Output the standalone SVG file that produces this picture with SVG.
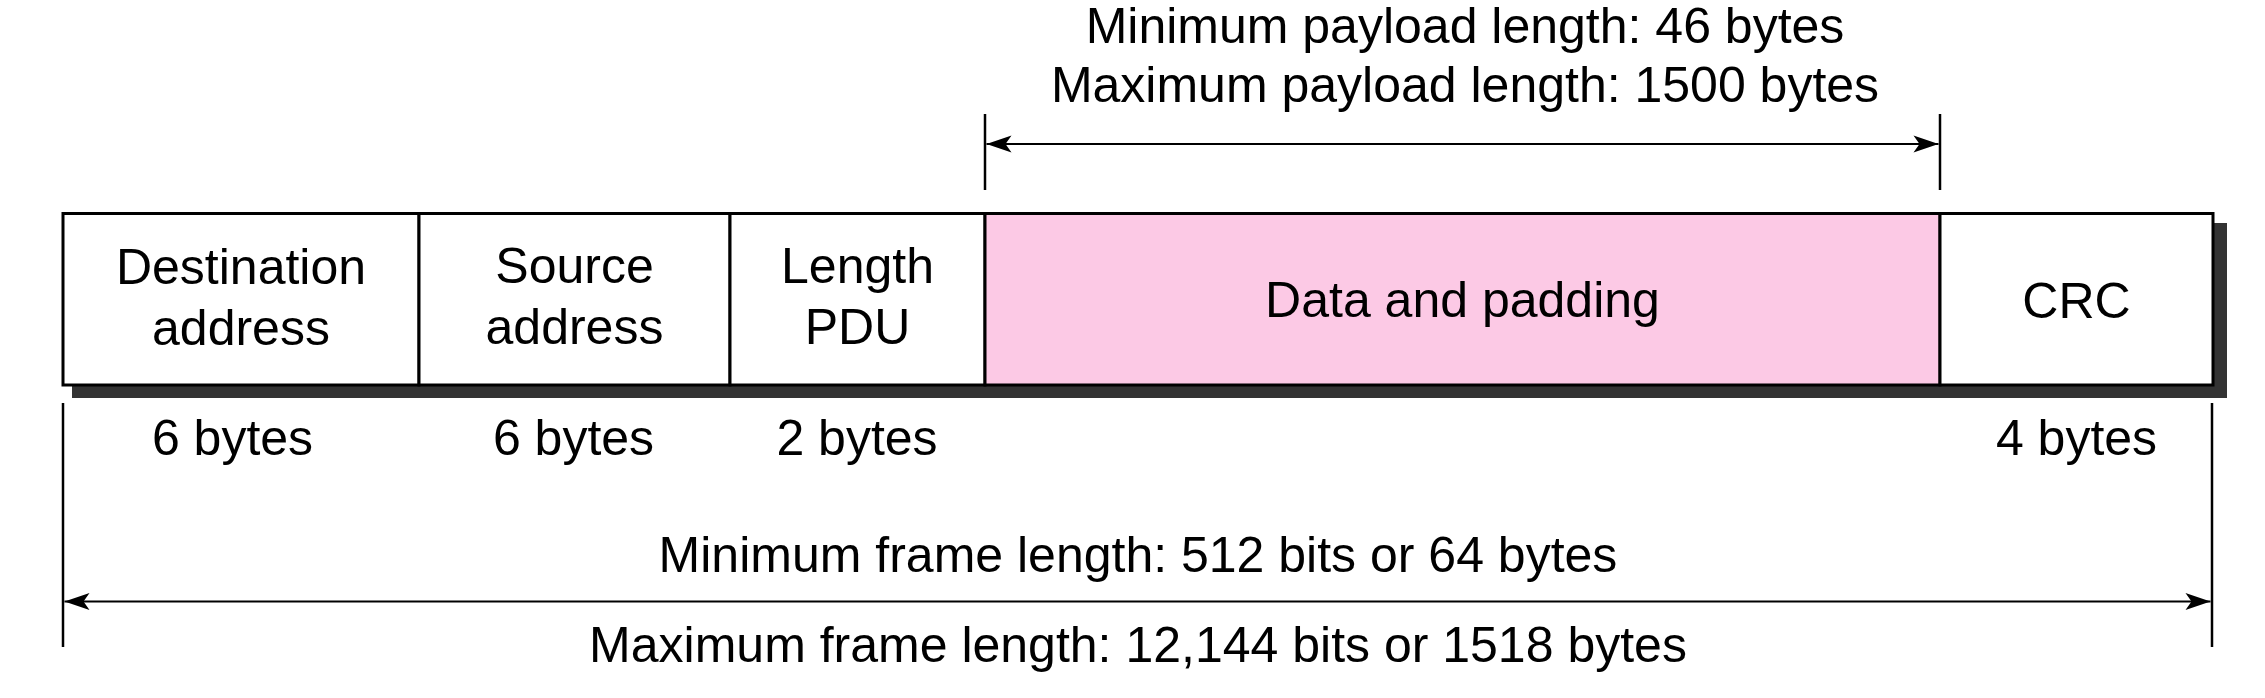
<svg xmlns="http://www.w3.org/2000/svg" width="2265" height="698" viewBox="0 0 2265 698">
  <style>
    text { font-family: "Liberation Sans", Arial, sans-serif; font-size: 50px; fill: #000; text-anchor: middle; }
    .field { fill: #fff; stroke: #000; stroke-width: 3; }
    .pink { fill: #fcc9e5; }
    .tick { stroke: #000; stroke-width: 2.5; fill: none; }
    .dim { stroke: #000; stroke-width: 2; fill: none; marker-start: url(#ah); marker-end: url(#ah); }
  </style>
  <defs>
    <marker id="ah" markerUnits="userSpaceOnUse" markerWidth="30" markerHeight="22" viewBox="-27 -11 30 22" refX="0" refY="0" orient="auto-start-reverse">
      <path d="M0,0 L-25,-8.5 L-19,0 L-25,8.5 Z" fill="#000"/>
    </marker>
  </defs>
  <rect width="2265" height="698" fill="#fff"/>
  <rect id="shadow" x="72" y="223" width="2155" height="175" fill="#333"/>
  <g id="dest">
    <rect class="field" x="63" y="213.5" width="356" height="171.5"/>
    <text x="241" y="284">Destination</text>
    <text x="241" y="345">address</text>
  </g>
  <g id="src">
    <rect class="field" x="419" y="213.5" width="311" height="171.5"/>
    <text x="574.5" y="283">Source</text>
    <text x="574.5" y="344">address</text>
  </g>
  <g id="len">
    <rect class="field" x="730" y="213.5" width="255" height="171.5"/>
    <text x="857.5" y="283">Length</text>
    <text x="857.5" y="344">PDU</text>
  </g>
  <g id="data">
    <rect class="field pink" x="985" y="213.5" width="955" height="171.5"/>
    <text x="1462.5" y="317">Data and padding</text>
  </g>
  <g id="crc">
    <rect class="field" x="1940" y="213.5" width="273" height="171.5"/>
    <text x="2076.5" y="318">CRC</text>
  </g>
  <g id="sizes">
    <text x="232.5" y="455">6 bytes</text>
    <text x="573.5" y="455">6 bytes</text>
    <text x="857" y="455">2 bytes</text>
    <text x="2076.5" y="455">4 bytes</text>
  </g>
  <g id="payload-label">
    <text x="1465" y="43">Minimum payload length: 46 bytes</text>
    <text x="1465" y="102">Maximum payload length: 1500 bytes</text>
  </g>
  <g id="frame-label">
    <text x="1138" y="572">Minimum frame length: 512 bits or 64 bytes</text>
    <text x="1138" y="662">Maximum frame length: 12,144 bits or 1518 bytes</text>
  </g>
  <g id="connectors">
    <line class="tick" x1="985" y1="114" x2="985" y2="190"/>
    <line class="tick" x1="1940" y1="114" x2="1940" y2="190"/>
    <line class="dim" x1="986.5" y1="144" x2="1938.5" y2="144"/>
    <line class="tick" x1="63" y1="403" x2="63" y2="647"/>
    <line class="tick" x1="2212" y1="403" x2="2212" y2="647"/>
    <line class="dim" x1="64.5" y1="601.5" x2="2210.5" y2="601.5"/>
  </g>
</svg>
